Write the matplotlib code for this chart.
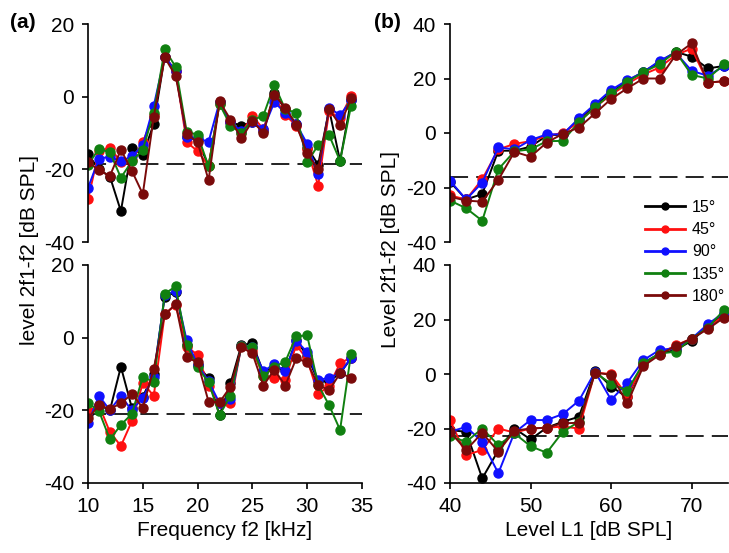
import numpy as np
import matplotlib
matplotlib.use("Agg")
from matplotlib import pyplot as plt

plt.rcParams['font.family'] = ['Liberation Sans', 'DejaVu Sans']
plt.rcParams['axes.unicode_minus'] = False

# x values
freq = list(range(10, 35))          # Frequency f2 [kHz]
level_l1 = list(range(40, 76, 2))   # Level L1 [dB SPL]

angles = ['15°', '45°', '90°', '135°', '180°']
colors = ['#000000', '#ff1010', '#1010ff', '#108010', '#7a0a0a']

# (a) upper panel
a_top_15 = [-15.8, -20, -22, -31.5, -14.2, -16, -7.5, 11, 7, -11, -12, -19, -1.5, -7, -8, -7,
            -9.5, 1, -3.5, -7.5, -14, -18.7, -3.5, -17.7, -1]
a_top_45 = [-28.3, -15, -14, -18, -17.5, -12.5, -5, 11, 7, -12.5, -15, -19, -2, -7, -10, -5.2,
            -9, 0, -5, -8, -14.5, -24.5, -4, -6, 0.3]
a_top_90 = [-25.1, -17.1, -16.5, -17.8, -16.4, -13.4, -2.5, 11, 7, -11, -11.5, -12.4, -1.5, -7,
            -9.5, -7, -9, -1.5, -4.5, -7.5, -13, -21.4, -3, -5.1, -1]
a_top_135 = [-18.7, -14.4, -15.3, -22.3, -17.8, -14.6, -4.4, 13, 8.2, -9.6, -10.5, -19.2, -2, -8,
             -10, -6.5, -5.2, 3.3, -3.5, -4.4, -18.1, -13.3, -10.6, -17.7, -2.5]
a_top_180 = [-17.9, -20.3, -21.8, -14.6, -20.4, -26.8, -5.5, 10.8, 5.7, -10.3, -12.5, -23, -1.3,
             -6.3, -11.5, -6.7, -10, 0.5, -3, -7.8, -15.6, -20, -3.5, -7.8, -0.5]

# (a) lower panel
a_bot_15 = [-21, -18.5, -20, -8, -19.3, -16.2, -10, 11.3, 12.5, -2, -7.5, -11.2, -21.3, -12.6,
            -2, -1.6, -9.5, -8, -9, -0.7, -5, -12, -12, -9.8, -5.7]
a_bot_45 = [-20.2, -18.6, -26, -29.8, -23, -12.5, -16, 6.5, 9, -2.5, -4.7, -13.4, -18, -18,
            -2.3, -3.5, -10.5, -11, -11.6, -2, -6, -15.6, -13.2, -7, -5.5]
a_bot_90 = [-23.6, -16, -20, -16, -20, -16.5, -10.8, 11.8, 12.8, -0.7, -7.5, -12, -18, -16.8,
            -2.3, -2.5, -9.3, -7.2, -9.3, -0.8, -4, -11.7, -11, -9.8, -5.5]
a_bot_135 = [-17.9, -20.2, -28, -24, -21, -10.8, -12.2, 12.1, 14.1, -2, -8.2, -12.3, -21.3, -16,
             -2.3, -2.5, -10.6, -8, -6.6, 0.4, 0.6, -13, -18.6, -25.4, -4.4]
a_bot_180 = [-22.2, -18.6, -19.6, -18.1, -15.5, -19.3, -8.5, 6.4, 9.2, -5.4, -6.8, -17.6, -17.8,
             -13.5, -2.7, -4.3, -13.2, -8.8, -13.2, -5.7, -6.8, -13, -14.5, -9.8, -11]

# (b) upper panel
b_top_15 = [-17.9, -24.4, -22.4, -6.5, -6.5, -5, -1, -0.5, 5, 10, 15, 19, 22.5, 26, 29.8, 28,
            23.7, 24.6]
b_top_45 = [-22.9, -24.4, -17, -6, -4, -3, -1, 0, 4, 9.5, 14, 18, 21.5, 24, 28.6, 31, 18.5, 19]
b_top_90 = [-17.5, -24.4, -18.2, -5.3, -6, -2.6, -0.5, -0.5, 5.4, 10.6, 15.8, 19.4, 22.3, 26.5,
            29.5, 22.8, 21, 24.5]
b_top_135 = [-24.8, -27.6, -32.2, -13.3, -6.7, -6, -3, -2.9, 4, 9.4, 14.5, 18.8, 22.3, 25.2,
             29.8, 21.3, 20, 25.2]
b_top_180 = [-23.4, -24.8, -25.2, -17.2, -6.9, -8.7, -3.5, -0.3, 2, 7.2, 12.5, 16.4, 20, 20,
             28.6, 32.9, 18.5, 19]

# (b) lower panel
b_bot_15 = [-20.6, -21.2, -38.3, -28, -20, -24, -19.7, -17.5, -15.7, 1.2, -4.6, -8.6, 4, 7.5,
            8.8, 12.2, 17.5, 22]
b_bot_45 = [-16.9, -29.7, -27.9, -20, -21.5, -20, -19.7, -19.3, -20, 0.5, 0, -8, 3.5, 7.5,
            10.5, 13, 17, 21.5]
b_bot_90 = [-21.2, -19.4, -24.9, -36.4, -21.5, -16.9, -16.9, -14.7, -9.8, 0.8, -9.5, -3.2, 5.1,
            8.8, 9.5, 13, 18.3, 22.5]
b_bot_135 = [-22.8, -24.9, -20, -26.1, -21.8, -26.5, -28.9, -21.2, -17.5, 0.5, -3.6, -6.1, 4,
             7.5, 8.2, 13, 17, 23.5]
b_bot_180 = [-21.2, -27.9, -21.6, -28.5, -20.8, -20, -19.7, -18.1, -17.9, 0.5, -0.3, -10.8, 2.9,
             7, 10.3, 13, 16.5, 20.7]

# noise floor (dashed lines)
floor_a_top = -18.5
floor_a_bot = -21.1
floor_b_top = -16.1
floor_b_bot = -22.6

W, H = 729, 553
fig = plt.figure(figsize=(W / 100, H / 100), dpi=100)


def box(x0, y0, x1, y1):
    # pixel box (top-left origin) -> figure fraction
    return [x0 / W, 1 - y1 / H, (x1 - x0) / W, (y1 - y0) / H]


ax_at = fig.add_axes(box(88, 24, 362, 242))
ax_ab = fig.add_axes(box(88, 265, 362, 483))
ax_bt = fig.add_axes(box(450, 24, 728, 242))
ax_bb = fig.add_axes(box(450, 265, 728, 483))

panels = [
    (ax_at, freq, [a_top_15, a_top_45, a_top_90, a_top_135, a_top_180], floor_a_top),
    (ax_ab, freq, [a_bot_15, a_bot_45, a_bot_90, a_bot_135, a_bot_180], floor_a_bot),
    (ax_bt, level_l1, [b_top_15, b_top_45, b_top_90, b_top_135, b_top_180], floor_b_top),
    (ax_bb, level_l1, [b_bot_15, b_bot_45, b_bot_90, b_bot_135, b_bot_180], floor_b_bot),
]

for ax, xs, series, floor in panels:
    ax.axhline(floor, color='#111111', lw=1.3, ls=(0, (10, 4.5)), zorder=1)
    for ys, c, lab in zip(series, colors, angles):
        ax.plot(xs, ys, color=c, lw=1.4, marker='o', ms=6.5, mfc=c, mec=c, label=lab, zorder=2)
    for s in ['top', 'right']:
        ax.spines[s].set_visible(False)
    ax.spines['left'].set_linewidth(1.2)
    ax.spines['bottom'].set_linewidth(1.2)
    ax.tick_params(labelsize=15, width=1.2, length=4, pad=6)

for ax in (ax_at, ax_ab):
    ax.set_xlim(10, 35)
    ax.set_ylim(-40, 20)
    ax.set_yticks([-40, -20, 0, 20])
    ax.set_xticks([10, 15, 20, 25, 30, 35])
for ax in (ax_bt, ax_bb):
    ax.set_xlim(40, 74.5)
    ax.set_ylim(-40, 40)
    ax.set_yticks([-40, -20, 0, 20, 40])
    ax.set_xticks([40, 50, 60, 70])

for ax in (ax_at, ax_bt):
    ax.spines['bottom'].set_visible(False)
    ax.tick_params(axis='x', bottom=False, labelbottom=False)

ax_ab.set_xlabel('Frequency f2 [kHz]', fontsize=15, labelpad=4)
ax_bb.set_xlabel('Level L1 [dB SPL]', fontsize=15, labelpad=4)

fig.text(30 / W, 1 - 250 / H, 'level 2f1-f2 [dB SPL]', rotation=90, fontsize=15,
         ha='center', va='center')
fig.text(391 / W, 1 - 250 / H, 'Level 2f1-f2 [dB SPL]', rotation=90, fontsize=15,
         ha='center', va='center')
fig.text(10 / W, 1 - 22 / H, '(a)', fontsize=15, fontweight='bold', ha='left', va='center')
fig.text(374 / W, 1 - 22 / H, '(b)', fontsize=15, fontweight='bold', ha='left', va='center')

handles, labels = ax_bt.get_legend_handles_labels()
leg = fig.legend(handles, labels, loc='upper left', bbox_to_anchor=(645 / W, 1 - 200 / H),
                 frameon=False, fontsize=11.5, borderpad=0, borderaxespad=0,
                 handlelength=2.5, handletextpad=0.45, labelspacing=0.45)
for h in leg.legend_handles:
    h.set_markersize(5)
    h.set_linewidth(2)

fig.savefig('out.png', dpi=100)
